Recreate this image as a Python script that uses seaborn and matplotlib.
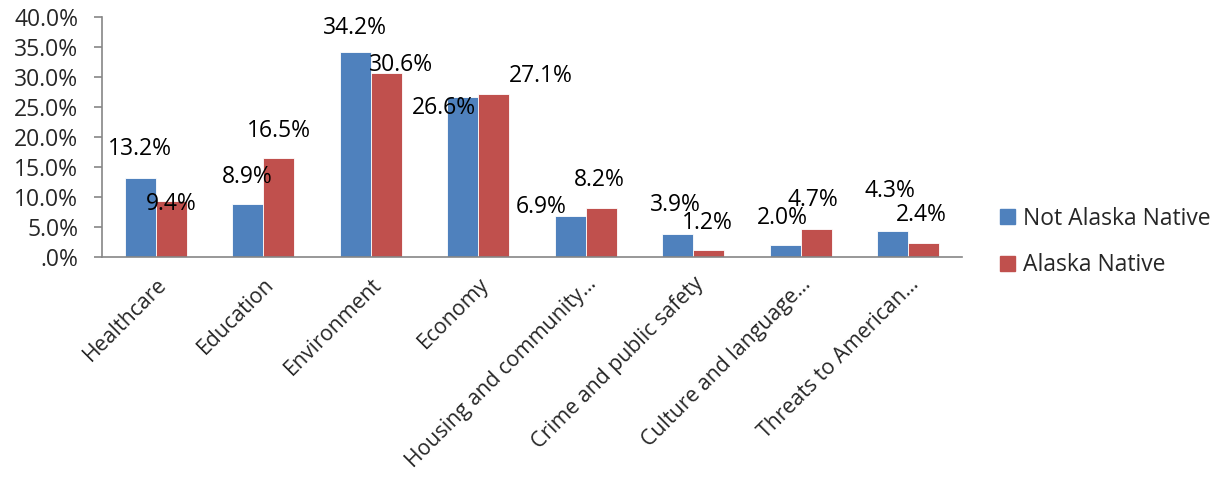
import matplotlib
matplotlib.use("Agg")
import matplotlib.pyplot as plt
from matplotlib.ticker import FixedLocator, FuncFormatter
import seaborn as sns
import pandas as pd

# Survey shares (percent) by top concern
categories = [
    "Healthcare", "Education", "Environment", "Economy",
    "Housing and community\u2026", "Crime and public safety",
    "Culture and language\u2026", "Threats to American\u2026",
]
not_native = [13.2, 8.9, 34.2, 26.6, 6.9, 3.9, 2.0, 4.3]
native = [9.4, 16.5, 30.6, 27.1, 8.2, 1.2, 4.7, 2.4]
groups = ["Not Alaska Native", "Alaska Native"]
colors = ["#4F81BD", "#C0504D"]

# Label nudges (pixels) from the top-centre of each bar
label_dx = [[0, 0, 0, -19, -29, -2, -3, -3],
            [0, 0, 15, 47, -2, -1, -3, -3]]
label_dy = [[29, 27, 24, -11, 9, 29, 27, 40],
            [-3, 27, 8, 18, 28, 27, 29, 28]]

sns.set_theme(style="white")
plt.rcParams["font.family"] = ["Open Sans", "DejaVu Sans"]
FS = 16.5
FS_X = 15.3

df = pd.DataFrame({
    "Category": categories * 2,
    "Share": not_native + native,
    "Group": [groups[0]] * len(categories) + [groups[1]] * len(categories),
})

fig = plt.figure(figsize=(12.23, 4.79), dpi=100)
ax = fig.add_axes([102 / 1223, 1 - 257 / 479, 860 / 1223, 240 / 479])

sns.barplot(data=df, x="Category", y="Share", hue="Group", hue_order=groups,
            palette=colors, width=0.58, ax=ax, linewidth=0.6,
            edgecolor="white", saturation=1, legend=True)

ax.set_xlim(-0.5, len(categories) - 0.5)
ax.set_ylim(0, 40)
ax.set_xlabel("")
ax.set_ylabel("")

ax.yaxis.set_major_locator(FixedLocator(range(0, 41, 5)))
ax.yaxis.set_major_formatter(FuncFormatter(
    lambda v, _: (".0%" if v == 0 else f"{v:.1f}%")))

ax.set_xticks(range(len(categories)))
ax.set_xticklabels(categories, rotation=45, ha="right",
                   rotation_mode="anchor", fontsize=FS_X)
ax.set_xticks([i - 0.5 for i in range(len(categories) + 1)], minor=True)
ax.tick_params(axis="x", which="major", length=0, pad=12)
ax.tick_params(axis="x", which="minor", length=6, width=1.2, color="#868686",
               direction="out")
ax.tick_params(axis="y", length=6, width=1.2, color="#868686", direction="out",
               labelsize=FS, pad=11, left=True)

for side in ["top", "right"]:
    ax.spines[side].set_visible(False)
for side in ["left", "bottom"]:
    ax.spines[side].set_color("#868686")
    ax.spines[side].set_linewidth(1.2)

for gi, cont in enumerate(ax.containers):
    vals = not_native if gi == 0 else native
    for ci, bar in enumerate(cont):
        x = bar.get_x() + bar.get_width() / 2
        ax.annotate(f"{vals[ci]:.1f}%", (x, vals[ci]),
                    xytext=(label_dx[gi][ci], label_dy[gi][ci]),
                    textcoords="offset pixels", ha="center", va="center",
                    fontsize=FS, color="black", annotation_clip=False)

ax.get_legend().remove()
handles = [plt.Rectangle((0, 0), 1, 1, color=c) for c in colors]
fig.legend(handles, groups, loc="center left",
           bbox_to_anchor=(1000 / 1223, 1 - 242 / 479), frameon=False,
           fontsize=FS, handlelength=0.66, handleheight=0.66,
           handletextpad=0.33, labelspacing=1.0, borderpad=0,
           borderaxespad=0)

fig.savefig("out.png", dpi=100, facecolor="white")
